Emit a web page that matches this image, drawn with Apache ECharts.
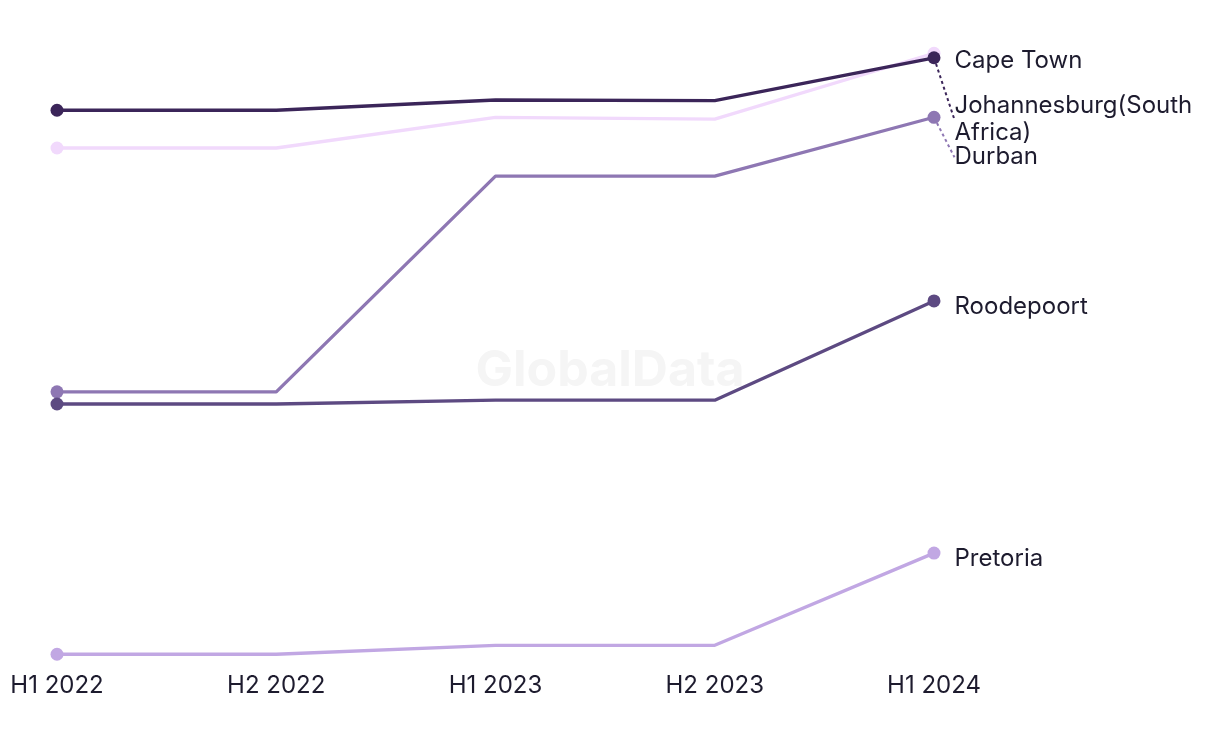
<!DOCTYPE html>
<html>
<head>
<meta charset="utf-8">
<script src="https://cdn.jsdelivr.net/npm/echarts@6/dist/echarts.min.js"></script>
<style>html,body{margin:0;padding:0;background:#fff}#c{width:1220px;height:744px}</style>
</head>
<body>
<div id="c"></div>
<script>
const categories = ['H1 2022', 'H2 2022', 'H1 2023', 'H2 2023', 'H1 2024'];
const seriesNames = ['Cape Town', 'Johannesburg(South Africa)', 'Durban', 'Roodepoort', 'Pretoria'];
const capeTown = [80.0, 80.0, 84.8, 84.5, 94.8];
const johannesburg = [85.9, 85.9, 87.5, 87.4, 94.1];
const durban = [41.9, 41.9, 75.6, 75.6, 84.8];
const roodepoort = [40.0, 40.0, 40.6, 40.6, 56.1];
const pretoria = [0.9, 0.9, 2.3, 2.3, 16.7];
const colors = ['#f1d9fc', '#3b2559', '#8e77b3', '#5d4a82', '#c1a7e3'];
const values = [capeTown, johannesburg, durban, roodepoort, pretoria];

// label placement (style): vertical nudge of the end labels to avoid overlaps
const labelNudge = [8, 62, 40, 6, 6];
const showGuide = [false, true, true, false, false];

const chart = echarts.init(document.getElementById('c'), null, {renderer: 'canvas'});
const fontFamily = 'Inter, "Noto Sans", sans-serif';

const series = seriesNames.map((name, i) => ({
  name,
  type: 'line',
  symbol: 'circle',
  symbolSize: (v, p) => (p.dataIndex === 0 || p.dataIndex === values[i].length - 1) ? 13 : 0,
  lineStyle: {width: 3.3, color: colors[i]},
  itemStyle: {color: colors[i]},
  emphasis: {disabled: true},
  labelLine: {show: showGuide[i], lineStyle: {type: [3, 3], width: 2, color: colors[i]}},
  labelLayout: {dy: labelNudge[i]},
  data: values[i].map((v, j) => j === values[i].length - 1 ? {
    value: v,
    label: {
      show: true,
      position: 'right',
      distance: 14,
      formatter: name.length > 20 ? name.replace(' ', '\n') : name,
      color: '#1d1b2e',
      fontSize: 24,
      fontFamily,
      lineHeight: 27
    }
  } : v)
}));

chart.setOption({
  animation: false,
  backgroundColor: '#ffffff',
  grid: {left: 57, right: 286, top: 20, bottom: 84},
  xAxis: {
    type: 'category',
    data: categories,
    boundaryGap: false,
    axisLine: {show: false},
    axisTick: {show: false},
    splitLine: {show: false},
    axisLabel: {color: '#1d1b2e', fontSize: 24, fontFamily, margin: 14}
  },
  yAxis: {
    type: 'value',
    min: 0,
    max: 100,
    show: false,
    splitLine: {show: false}
  },
  graphic: [{
    type: 'text',
    left: 'center',
    top: 346,
    z: -1,
    style: {text: 'GlobalData', fill: '#f5f5f5', font: 'bold 50px ' + fontFamily}
  }],
  series
});
</script>
</body>
</html>
